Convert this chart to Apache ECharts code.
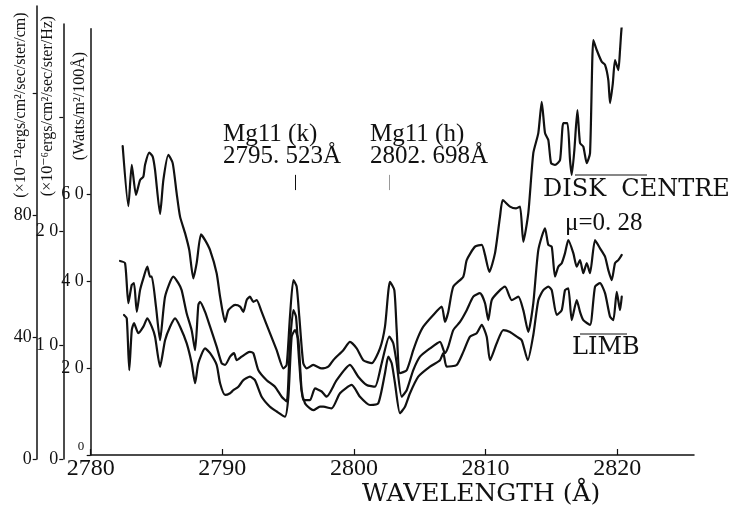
<!DOCTYPE html>
<html>
<head>
<meta charset="utf-8">
<script src="https://cdn.jsdelivr.net/npm/echarts@6/dist/echarts.min.js"></script>
<style>
  html, body { margin: 0; padding: 0; background: #fff; }
  #chart { width: 739px; height: 509px; }
</style>
</head>
<body>
<div id="chart"></div>
<script>
// Wavelength axis (Å)
const wavelengthTicks = [2780, 2790, 2800, 2810, 2820];

// Intensity axes: W/m²/100Å, ×10⁻¹² erg/cm²/s/sr/cm, ×10⁻⁶ erg/cm²/s/sr/Hz
const wattsTicks = [0, 2, 4, 6];
const wattsLabels = [2, 4, 6];
const cmTicks = [0, 40, 80, 120];
const cmLabels = [0, 40, 80];
const hzTicks = [0, 1, 2, 3];
const hzLabels = [0, 1, 2];

// Mg II resonance lines (Å)
const mgK = 2795.523;
const mgH = 2802.698;

// Disk centre spectrum
const diskWl = [2782.43, 2782.86, 2783.12, 2783.44, 2783.75, 2784.00, 2784.13, 2784.45, 2784.71, 2784.89,
  2785.27, 2785.52, 2785.90, 2786.23, 2786.53, 2786.79, 2787.17, 2787.49, 2787.80, 2788.05,
  2788.38, 2788.69, 2789.07, 2789.57, 2789.83, 2790.21, 2790.46, 2790.97, 2791.35, 2791.60,
  2791.85, 2792.10, 2792.36, 2792.61, 2792.99, 2793.62, 2794.13, 2794.64, 2794.89, 2795.14,
  2795.40, 2795.65, 2795.85, 2796.15, 2796.41, 2796.91, 2797.55, 2798.05, 2798.43, 2799.19,
  2799.70, 2800.21, 2800.71, 2801.35, 2801.98, 2802.36, 2802.74, 2803.07, 2803.25, 2803.50,
  2804.01, 2804.51, 2804.89, 2805.27, 2806.03, 2806.67, 2806.92, 2807.17, 2807.55, 2808.31,
  2808.57, 2809.20, 2809.71, 2809.96, 2810.29, 2810.72, 2811.10, 2811.31, 2811.86, 2812.32,
  2812.62, 2812.87, 2813.25, 2813.63, 2814.01, 2814.27, 2814.52, 2814.77, 2814.98, 2815.28,
  2815.66, 2815.91, 2816.22, 2816.42, 2816.55, 2816.75, 2816.98, 2817.18, 2817.43, 2817.69,
  2817.94, 2818.19, 2818.45, 2818.83, 2819.08, 2819.33, 2819.46, 2819.67, 2819.84, 2820.09,
  2820.22, 2820.35, 2820.47];
const diskW = [7.10, 5.72, 6.67, 5.98, 6.32, 6.40, 6.67, 6.95, 6.86, 6.55,
  5.54, 6.32, 6.90, 6.71, 6.02, 5.48, 5.10, 4.71, 4.06, 4.41,
  5.07, 4.94, 4.71, 4.18, 3.64, 3.06, 3.33, 3.45, 3.41, 3.29,
  3.56, 3.64, 3.52, 3.56, 3.29, 2.80, 2.41, 1.99, 2.07, 3.18,
  4.02, 3.87, 3.18, 2.11, 1.99, 2.07, 1.99, 2.03, 2.18, 2.41,
  2.60, 2.45, 2.18, 2.11, 2.45, 2.95, 3.98, 3.79, 2.87, 1.88,
  1.95, 2.41, 2.72, 2.95, 3.22, 3.41, 3.06, 3.29, 3.87, 4.10,
  4.48, 4.79, 4.83, 4.60, 4.21, 4.64, 5.48, 5.86, 5.71, 5.67,
  5.71, 4.90, 5.56, 6.94, 7.40, 8.12, 7.40, 7.24, 6.71, 6.67,
  6.78, 7.63, 7.63, 6.78, 6.44, 7.01, 7.93, 7.17, 7.09, 6.71,
  6.94, 9.54, 9.31, 9.04, 8.97, 8.62, 8.09, 8.54, 9.08, 8.85,
  9.31, 9.85, 9.89];

// mu = 0.28 spectrum
const midWl = [2782.23, 2782.61, 2782.86, 2783.12, 2783.29, 2783.50, 2783.75, 2784.00, 2784.30, 2784.51,
  2784.64, 2784.96, 2785.27, 2785.65, 2786.28, 2786.66, 2786.91, 2787.29, 2787.67, 2787.93,
  2788.18, 2788.31, 2788.69, 2789.07, 2789.57, 2789.95, 2790.21, 2790.59, 2790.89, 2791.09,
  2791.47, 2791.85, 2792.10, 2792.36, 2792.74, 2793.37, 2794.00, 2794.51, 2794.89, 2795.14,
  2795.40, 2795.60, 2795.85, 2796.15, 2796.66, 2797.04, 2797.55, 2797.93, 2798.69, 2799.70,
  2800.33, 2800.97, 2801.60, 2802.11, 2802.69, 2802.99, 2803.25, 2803.63, 2804.01, 2804.51,
  2805.02, 2805.78, 2806.54, 2806.92, 2807.17, 2807.55, 2808.06, 2808.57, 2809.07, 2809.58,
  2809.96, 2810.21, 2810.47, 2810.97, 2811.48, 2811.99, 2812.49, 2812.87, 2813.25, 2813.63,
  2814.01, 2814.52, 2814.77, 2815.03, 2815.28, 2815.53, 2815.79, 2816.04, 2816.29, 2816.67,
  2816.93, 2817.18, 2817.43, 2817.69, 2817.94, 2818.32, 2818.70, 2819.08, 2819.33, 2819.59,
  2819.84, 2820.09, 2820.35];
const midW = [4.46, 4.41, 3.49, 3.91, 3.95, 3.29, 3.79, 4.06, 4.33, 4.10,
  4.10, 3.41, 2.64, 3.64, 4.10, 3.95, 3.79, 3.26, 2.87, 2.41,
  3.45, 3.52, 3.29, 2.95, 2.49, 2.11, 2.07, 2.26, 2.34, 2.18,
  2.26, 2.34, 2.37, 2.34, 1.95, 1.72, 1.57, 1.34, 1.23, 2.57,
  3.33, 3.18, 2.11, 1.26, 1.26, 1.53, 1.46, 1.34, 1.72, 2.07,
  1.80, 1.61, 1.57, 2.11, 2.72, 2.57, 2.11, 1.34, 1.49, 1.95,
  2.26, 2.45, 2.60, 2.34, 2.49, 2.87, 3.06, 3.33, 3.64, 3.72,
  3.49, 3.10, 3.56, 3.75, 3.87, 3.56, 3.64, 3.33, 2.83, 3.49,
  4.71, 5.21, 4.83, 4.79, 4.10, 4.33, 4.41, 4.64, 4.94, 4.64,
  4.33, 4.48, 4.18, 4.41, 4.18, 4.94, 4.75, 4.56, 4.25, 4.02,
  4.41, 4.48, 4.60];

// Limb spectrum
const limbWl = [2782.53, 2782.74, 2782.93, 2783.12, 2783.29, 2783.62, 2784.00, 2784.30, 2784.64, 2784.89,
  2785.27, 2785.65, 2786.03, 2786.41, 2786.79, 2787.29, 2787.67, 2787.93, 2788.18, 2788.69,
  2789.07, 2789.57, 2789.83, 2790.21, 2790.59, 2790.84, 2791.22, 2791.60, 2792.10, 2792.48,
  2792.99, 2793.62, 2794.13, 2794.76, 2795.02, 2795.27, 2795.52, 2795.78, 2796.03, 2796.28,
  2796.66, 2796.91, 2797.42, 2797.67, 2798.31, 2798.94, 2799.83, 2800.46, 2801.22, 2801.85,
  2802.36, 2802.61, 2802.87, 2803.12, 2803.50, 2803.88, 2804.26, 2804.89, 2805.78, 2806.54,
  2806.79, 2807.05, 2807.81, 2808.31, 2808.82, 2809.33, 2809.71, 2810.09, 2810.34, 2810.85,
  2811.35, 2811.86, 2812.37, 2812.75, 2813.21, 2813.63, 2814.01, 2814.39, 2814.77, 2815.03,
  2815.41, 2815.79, 2816.04, 2816.29, 2816.55, 2816.93, 2817.18, 2817.43, 2817.94, 2818.32,
  2818.70, 2819.08, 2819.46, 2819.71, 2819.97, 2820.22, 2820.35];
const limbW = [3.22, 3.14, 1.95, 2.87, 3.03, 2.80, 2.95, 3.14, 2.95, 2.72,
  2.03, 2.64, 2.95, 3.14, 2.95, 2.57, 2.11, 1.65, 2.11, 2.45,
  2.34, 2.07, 1.65, 1.38, 1.42, 1.49, 1.57, 1.72, 1.80, 1.72,
  1.34, 1.11, 1.00, 0.88, 1.34, 2.72, 2.87, 2.64, 1.49, 1.19,
  1.07, 1.03, 1.11, 1.11, 1.07, 1.42, 1.61, 1.34, 1.15, 1.19,
  1.88, 2.26, 2.11, 1.65, 0.96, 1.11, 1.42, 1.80, 2.03, 2.18,
  2.34, 2.03, 2.07, 2.37, 2.72, 2.80, 2.99, 2.72, 2.18, 2.57,
  2.87, 2.83, 2.72, 2.64, 2.18, 2.76, 3.56, 3.79, 3.87, 3.79,
  3.22, 3.33, 3.79, 3.83, 3.10, 3.56, 3.29, 3.10, 2.99, 3.87,
  3.95, 3.72, 3.18, 3.10, 3.75, 3.33, 3.64];

const zip = (xs, ys) => xs.map((x, i) => [x, ys[i]]);

const SERIF = '"Liberation Serif", "DejaVu Serif", serif';
const WIDE_SERIF = '"DejaVu Serif", "Liberation Serif", serif';
const INK = '#111';

const lineSeries = (name, data, extra) => Object.assign({
  name: name,
  type: 'line',
  xAxisIndex: 0,
  yAxisIndex: 0,
  data: data,
  showSymbol: false,
  smooth: 0.2,
  silent: true,
  lineStyle: { color: INK, width: 2.2, join: 'round', cap: 'round' }
}, extra || {});

const sideAxis = (gridIndex, max, ticks, labels, fmt, margin) => ({
  type: 'value',
  gridIndex: gridIndex,
  min: 0,
  max: max,
  axisLine: { show: true, lineStyle: { color: INK, width: 1.5 } },
  axisTick: { show: true, length: 4, customValues: ticks, lineStyle: { color: INK, width: 1.2 } },
  axisLabel: { customValues: labels, formatter: fmt, color: INK, fontFamily: SERIF, fontSize: 18, margin: margin },
  splitLine: { show: false }
});

const tenths = v => (v === 0 ? '0' : v + ' 0');

const chart = echarts.init(document.getElementById('chart'), null, { renderer: 'canvas' });

chart.setOption({
  animation: false,
  backgroundColor: '#fff',
  grid: [
    { left: 90.7, right: 45, top: 28.7, bottom: 54 },
    { left: 36.7, width: 10, top: 6, bottom: 50 },
    { left: 63.3, width: 10, top: 24, bottom: 50 }
  ],
  xAxis: [
    {
      type: 'value', gridIndex: 0, min: 2780, max: 2825.84,
      axisLine: { lineStyle: { color: INK, width: 1.5 } },
      axisTick: { inside: true, length: 6, customValues: wavelengthTicks, lineStyle: { color: INK, width: 1.2 } },
      axisLabel: { customValues: wavelengthTicks, formatter: v => String(v), color: INK, fontFamily: SERIF, fontSize: 24, margin: 2 },
      splitLine: { show: false }
    },
    { type: 'value', gridIndex: 1, show: false, min: 0, max: 1 },
    { type: 'value', gridIndex: 2, show: false, min: 0, max: 1 }
  ],
  yAxis: [
    sideAxis(0, 9.8, wattsTicks, wattsLabels, tenths, 7),
    sideAxis(1, 148.8, cmTicks, cmLabels, v => String(v), 5),
    sideAxis(2, 3.82, hzTicks, hzLabels, tenths, 5)
  ],
  series: [
    lineSeries('DISK CENTRE', zip(diskWl, diskW), {
      markLine: {
        silent: true,
        symbol: 'none',
        label: { show: false },
        data: [
          [{ coord: [mgK, 6.09], lineStyle: { color: INK, width: 1, type: 'solid' } },
           { coord: [mgK, 6.44] }],
          [{ coord: [mgH, 6.09], lineStyle: { color: '#999', width: 1, type: 'solid' } },
           { coord: [mgH, 6.44] }]
        ]
      }
    }),
    lineSeries('μ=0.28', zip(midWl, midW)),
    lineSeries('LIMB', zip(limbWl, limbW))
  ],
  graphic: [
    // axis titles, reading upwards
    { type: 'text', x: 21, y: 105, rotation: Math.PI / 2,
      style: { text: '(×10⁻¹²ergs/cm²/sec/ster/cm)', font: '16px ' + SERIF, fill: INK, textAlign: 'center', textVerticalAlign: 'middle' } },
    { type: 'text', x: 48, y: 106, rotation: Math.PI / 2,
      style: { text: '(×10⁻⁶ergs/cm²/sec/ster/Hz)', font: '16px ' + SERIF, fill: INK, textAlign: 'center', textVerticalAlign: 'middle' } },
    { type: 'text', x: 80, y: 106, rotation: Math.PI / 2,
      style: { text: '(Watts/m²/100Å)', font: '16px ' + SERIF, fill: INK, textAlign: 'center', textVerticalAlign: 'middle' } },
    { type: 'text', x: 81, y: 447,
      style: { text: '0', font: '13px ' + SERIF, fill: INK, textAlign: 'center', textVerticalAlign: 'middle' } },

    // Mg II line identifications
    { type: 'text', x: 223, y: 134,
      style: { text: 'Mg11 (k)', font: '25px ' + SERIF, fill: INK, textAlign: 'left', textVerticalAlign: 'middle' } },
    { type: 'text', x: 223, y: 156,
      style: { text: '2795. 523Å', font: '25px ' + SERIF, fill: INK, textAlign: 'left', textVerticalAlign: 'middle' } },
    { type: 'text', x: 370, y: 134,
      style: { text: 'Mg11 (h)', font: '25px ' + SERIF, fill: INK, textAlign: 'left', textVerticalAlign: 'middle' } },
    { type: 'text', x: 370, y: 156,
      style: { text: '2802. 698Å', font: '25px ' + SERIF, fill: INK, textAlign: 'left', textVerticalAlign: 'middle' } },

    // curve labels
    { type: 'line', shape: { x1: 575, y1: 175, x2: 647, y2: 175 }, style: { stroke: INK, lineWidth: 1.2 } },
    { type: 'text', x: 543, y: 190,
      style: { text: 'DISK  CENTRE', font: '24px ' + WIDE_SERIF, fill: INK, textAlign: 'left', textVerticalAlign: 'middle' } },
    { type: 'text', x: 565, y: 223,
      style: { text: 'μ=0. 28', font: '25px ' + SERIF, fill: INK, textAlign: 'left', textVerticalAlign: 'middle' } },
    { type: 'line', shape: { x1: 580, y1: 334, x2: 627, y2: 334 }, style: { stroke: INK, lineWidth: 1.2 } },
    { type: 'text', x: 572, y: 348,
      style: { text: 'LIMB', font: '24px ' + WIDE_SERIF, fill: INK, textAlign: 'left', textVerticalAlign: 'middle' } },

    // wavelength axis title
    { type: 'text', x: 362, y: 494,
      style: { text: 'WAVELENGTH (Å)', font: '25px ' + WIDE_SERIF, fill: INK, textAlign: 'left', textVerticalAlign: 'middle' } }
  ]
});
</script>
</body>
</html>
